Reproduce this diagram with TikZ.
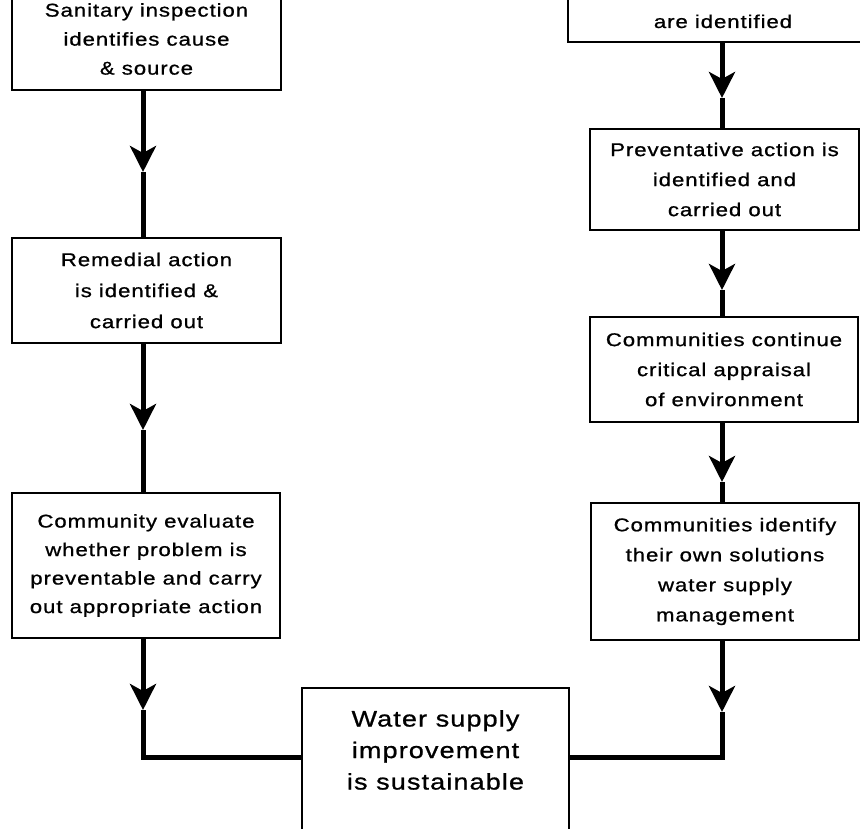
\documentclass[tikz,border=0pt]{standalone}
\usepackage{fontspec}
\setmainfont{Liberation Sans}[FakeStretch=1.2, LetterSpace=5, FakeBold=0.9]
\usetikzlibrary{arrows.meta}
\begin{document}
\begin{tikzpicture}[x=1pt, y=-1pt,
  box/.style={draw, line width=2.6pt, inner sep=0pt, align=center,
    font=\fontsize{18.5}{30}\selectfont},
  plain/.style={inner sep=0pt, align=center, font=\fontsize{18.5}{30}\selectfont},
  big/.style={inner sep=0pt, align=center, font=\fontsize{22.5}{31.5}\selectfont},
  conn/.style={line width=5pt, line join=miter},
  arr/.style={-{Stealth[length=26pt, width=26pt, inset=7pt]}}
]
\useasboundingbox (0,0) rectangle (860,829);
\clip (0,0) rectangle (860,829);
\fill[white] (0,0) rectangle (860,829);

% left column
\node[box, minimum width=269pt, minimum height=102pt, font=\fontsize{18.5}{29}\selectfont]
  (A) at (146.5,39) {Sanitary inspection\\identifies cause\\\& source};
\node[box, minimum width=269pt, minimum height=105pt, font=\fontsize{18.5}{31}\selectfont]
  (G) at (146.5,290.5) {Remedial action\\is identified \&\\carried out};
\node[box, minimum width=268pt, minimum height=145pt, font=\fontsize{18.5}{28.5}\selectfont]
  (F) at (146,565.5) {Community evaluate\\whether problem is\\preventable and carry\\out appropriate action};

% right column
\node[box, minimum width=310pt, minimum height=142pt] (B) at (723,-29) {};
\node[plain, anchor=base] (Btext) at (723,28) {are identified};
\node[box, minimum width=269pt, minimum height=101pt]
  (C) at (724.5,179.5) {Preventative action is\\identified and\\carried out};
\node[box, minimum width=268pt, minimum height=105pt]
  (D) at (724,369.5) {Communities continue\\critical appraisal\\of environment};
\node[box, minimum width=268pt, minimum height=137pt]
  (E) at (725,571.5) {Communities identify\\their own solutions\\water supply\\management};

% bottom box
\node[box, minimum width=267pt, minimum height=152pt] (W) at (435.5,764) {};
\node[big] (Wtext) at (435.5,750) {Water supply\\improvement\\is sustainable};

% arrow tip points and corners
\coordinate (t1) at (143,172);
\coordinate (t2) at (143,430);
\coordinate (t3) at (143,710);
\coordinate (cL) at (143,757);
\coordinate (r1) at (722,98);
\coordinate (r2) at (722,290);
\coordinate (r3) at (722,482);
\coordinate (r4) at (722,712);
\coordinate (cR) at (722,757);

% left connectors
\draw[conn, arr] (A.south -| t1) -- (t1);
\draw[conn] (t1) -- (t1 |- G.north);
\draw[conn, arr] (G.south -| t2) -- (t2);
\draw[conn] (t2) -- (t2 |- F.north);
\draw[conn, arr] (F.south -| t3) -- (t3);
\draw[conn] (t3) -- (cL) -- (cL -| W.west);

% right connectors
\draw[conn, arr] (B.south -| r1) -- (r1);
\draw[conn] (r1) -- (r1 |- C.north);
\draw[conn, arr] (C.south -| r2) -- (r2);
\draw[conn] (r2) -- (r2 |- D.north);
\draw[conn, arr] (D.south -| r3) -- (r3);
\draw[conn] (r3) -- (r3 |- E.north);
\draw[conn, arr] (E.south -| r4) -- (r4);
\draw[conn] (r4) -- (cR) -- (cR -| W.east);
\end{tikzpicture}
\end{document}
